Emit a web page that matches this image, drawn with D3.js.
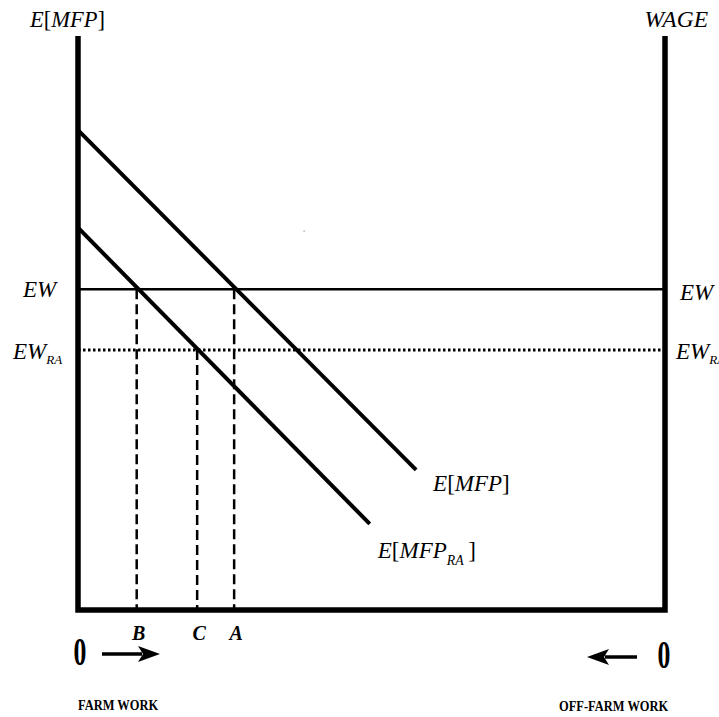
<!DOCTYPE html>
<html>
<head>
<meta charset="utf-8">
<script src="https://cdn.jsdelivr.net/npm/d3@7"></script>
</head>
<body style="margin:0;background:#fff">
<div id="chart"></div>
<script>
// values (abstract units 0..10 on both axes)
const mfpLine = [{x: 0, y: 8.36}, {x: 5.76, y: 2.44}];
const mfpRaLine = [{x: 0, y: 6.66}, {x: 4.97, y: 1.50}];
const wageLevels = [{key: "EW", y: 5.59, dash: null, sw: 2.5}, {key: "EW_RA", y: 4.53, dash: "2.5,2.5", sw: 3}];
const dropPoints = [{label: "B", x: 1.0, y: 5.59}, {label: "C", x: 2.03, y: 4.53}, {label: "A", x: 2.66, y: 5.59}];

const width = 719, height = 717;
const margin = {left: 78, right: 54, top: 36, bottom: 107};
const serif = '"Liberation Serif"';

const svg = d3.select("#chart").append("svg")
  .attr("width", width).attr("height", height);

const x = d3.scaleLinear().domain([0, 10]).range([margin.left, width - margin.right]);
const y = d3.scaleLinear().domain([0, 10]).range([height - margin.bottom, margin.top]);

const txt = (px, py, size) => svg.append("text")
  .attr("x", px).attr("y", py)
  .style("font-family", serif).style("font-size", size + "px").attr("fill", "#000");

// wage lines
wageLevels.forEach(w => {
  svg.append("line")
    .attr("x1", x(0)).attr("x2", x(10))
    .attr("y1", y(w.y)).attr("y2", y(w.y))
    .attr("stroke", "#000").attr("stroke-width", w.sw)
    .attr("stroke-dasharray", w.dash);
});

// dashed drop lines
svg.selectAll(".drop").data(dropPoints).enter().append("line")
  .attr("x1", d => x(d.x)).attr("x2", d => x(d.x))
  .attr("y1", d => y(d.y)).attr("y2", y(0))
  .attr("stroke", "#000").attr("stroke-width", 2.5)
  .attr("stroke-dasharray", "10,5");

// MFP curves
const line = d3.line().x(d => x(d.x)).y(d => y(d.y));
[mfpLine, mfpRaLine].forEach(l => {
  svg.append("path").datum(l)
    .attr("d", line)
    .attr("fill", "none").attr("stroke", "#000").attr("stroke-width", 4);
});

// axes frame
svg.append("path")
  .attr("d", `M${x(0)},${y(10)} V${y(0)} H${x(10)} V${y(10)}`)
  .attr("fill", "none").attr("stroke", "#000").attr("stroke-width", 5.5)
  .attr("stroke-linejoin", "miter");

// stray dot
svg.append("rect").attr("x", 303.5).attr("y", 230.5).attr("width", 1.2).attr("height", 1.2).attr("fill", "#888");

// E[...] style labels
function mathLabel(px, py, main, sub, size) {
  const t = txt(px, py, size);
  t.append("tspan").style("font-style", "italic").text("E");
  t.append("tspan").text("[");
  t.append("tspan").style("font-style", "italic").text(main);
  if (sub) {
    t.append("tspan").style("font-style", "italic").style("font-size", (size * 0.6) + "px")
      .attr("dy", size * 0.3).text(sub);
    t.append("tspan").attr("dy", -size * 0.3).text("\u2009]");
  } else {
    t.append("tspan").text("]");
  }
  return t;
}

mathLabel(30, 27, "MFP", null, 22.5);
txt(708, 27, 23.5).attr("text-anchor", "end").style("font-style", "italic").text("WAGE");

mathLabel(x(mfpLine[1].x) + 17, y(mfpLine[1].y) + 21, "MFP", null, 23);
mathLabel(x(mfpRaLine[1].x) + 8, y(mfpRaLine[1].y) + 34, "MFP", "RA", 23);

// EW labels
function ewLabel(px, py, sub) {
  const t = txt(px, py, 23).style("font-style", "italic");
  t.append("tspan").text("EW");
  if (sub) t.append("tspan").style("font-size", "13px").attr("dy", 5).text(sub);
}
ewLabel(23, y(wageLevels[0].y) + 8, null);
ewLabel(13, y(wageLevels[1].y) + 9, "RA");
ewLabel(680, y(wageLevels[0].y) + 11, null);
ewLabel(676, y(wageLevels[1].y) + 9, "RA");

// drop point letters
svg.selectAll(".lab").data(dropPoints).enter().append("text")
  .attr("x", d => x(d.x) + 2).attr("y", y(0) + 30)
  .attr("text-anchor", "middle")
  .style("font-family", serif).style("font-size", "20px")
  .style("font-weight", "bold").style("font-style", "italic")
  .text(d => d.label);

// zeros, compressed
function zero(px, py) {
  svg.append("text")
    .attr("transform", `translate(${px},${py}) scale(0.66,1)`)
    .attr("text-anchor", "middle")
    .style("font-family", serif).style("font-size", "39px").style("font-weight", "bold").text("0");
}
zero(80, 665);
zero(664, 668);

// arrows
function arrow(x1, x2, yy) {
  const dir = Math.sign(x2 - x1);
  svg.append("line").attr("x1", x1).attr("x2", x2 - dir * 18).attr("y1", yy).attr("y2", yy)
    .attr("stroke", "#000").attr("stroke-width", 3.5);
  svg.append("path")
    .attr("d", `M${x2},${yy} L${x2 - dir * 22},${yy - 8} L${x2 - dir * 17},${yy} L${x2 - dir * 22},${yy + 8} Z`)
    .attr("fill", "#000");
}
arrow(102, 160, 654);
arrow(637, 587, 657);

// bottom captions
function caption(px, py, str) {
  svg.append("text")
    .attr("transform", `translate(${px},${py}) scale(0.89,1)`)
    .style("font-family", serif).style("font-size", "14px").style("font-weight", "bold").text(str);
}
caption(78, 710, "FARM WORK");
caption(559, 711, "OFF-FARM WORK");
</script>
</body>
</html>
